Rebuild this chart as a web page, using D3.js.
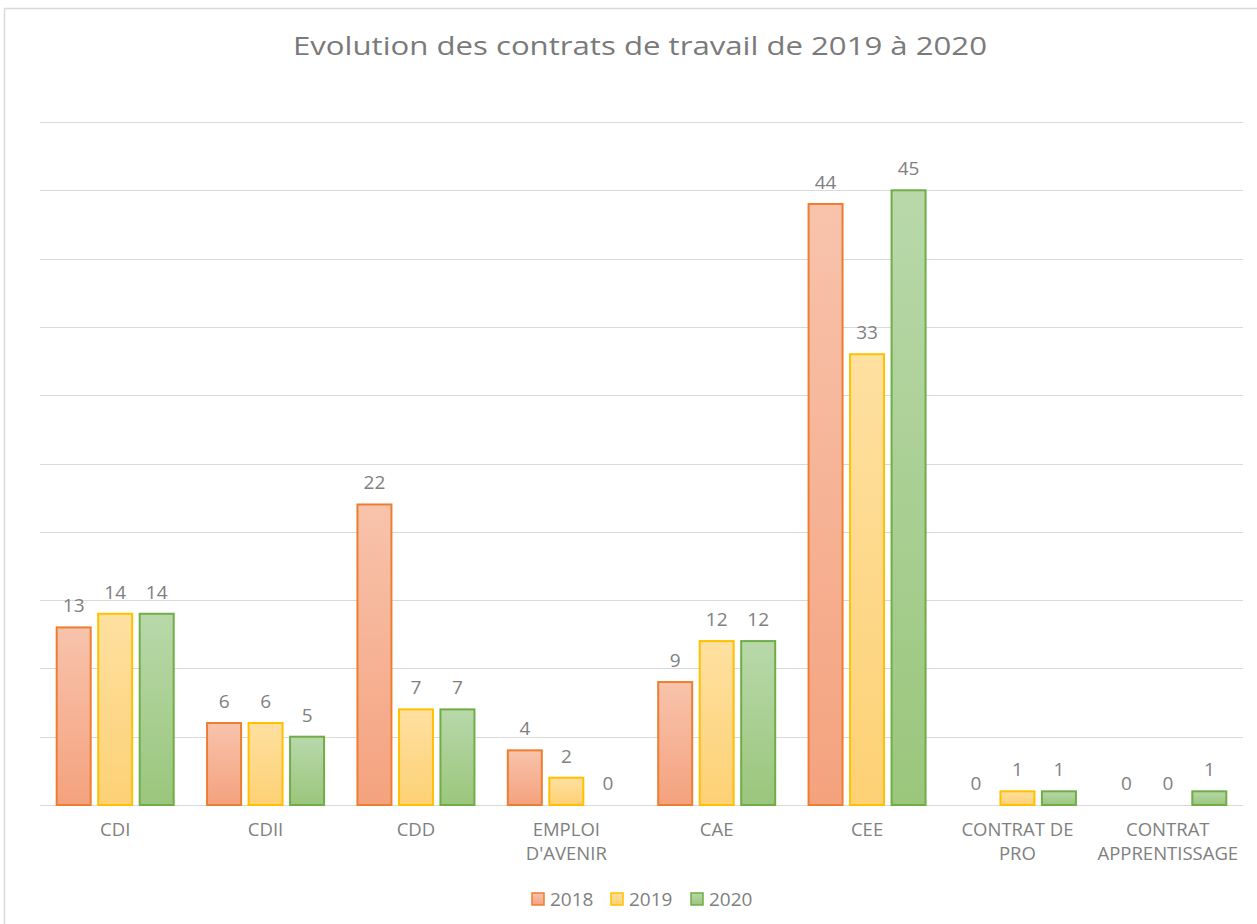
<!DOCTYPE html>
<html>
<head>
<meta charset="utf-8">
<script src="https://cdn.jsdelivr.net/npm/d3@7"></script>
<style>
  body { margin: 0; background: #fff; }
  text { font-family: "Open Sans", "Noto Sans", sans-serif; }
</style>
</head>
<body>
<div id="chart"></div>
<script>
var categories = ["CDI", "CDII", "CDD", "EMPLOI D'AVENIR", "CAE", "CEE", "CONTRAT DE PRO", "CONTRAT APPRENTISSAGE"]
// labels as they wrap in the picture
var categoryLines = [["CDI"], ["CDII"], ["CDD"], ["EMPLOI", "D'AVENIR"], ["CAE"], ["CEE"], ["CONTRAT DE", "PRO"], ["CONTRAT", "APPRENTISSAGE"]]
var years = ["2018", "2019", "2020"]
var values2018 = [13, 6, 22, 4, 9, 44, 0, 0]
var values2019 = [14, 6, 7, 2, 12, 33, 1, 0]
var values2020 = [14, 5, 7, 0, 12, 45, 1, 1]
var gridTicks = [0, 5, 10, 15, 20, 25, 30, 35, 40, 45, 50]

var series = [values2018, values2019, values2020]
var strokes = ["#ed7d31", "#ffc000", "#70ad47"]
var gradTop = ["#f8c3ac", "#fee0a0", "#b8d8aa"]
var gradBot = ["#f4a27e", "#fdd175", "#9bc67c"]

var W = 1257, H = 924
var plot = {left: 40, right: 1243, top: 122, bottom: 805}

var svg = d3.select("#chart").append("svg")
  .attr("width", W)
  .attr("height", H)

var defs = svg.append("defs")
years.forEach(function(y, i){
  var g = defs.append("linearGradient")
    .attr("id", "grad" + i)
    .attr("x1", 0).attr("y1", 0).attr("x2", 0).attr("y2", 1)
  g.append("stop").attr("offset", "0%").attr("stop-color", gradTop[i])
  g.append("stop").attr("offset", "100%").attr("stop-color", gradBot[i])
})

// chart frame (left and top edges visible)
svg.append("path")
  .attr("d", "M4.5,924 V8.5 H1257")
  .attr("fill", "none")
  .attr("stroke", "#d9d9d9")
  .attr("stroke-width", 1.5)

svg.append("text")
  .attr("x", 640)
  .attr("y", 55)
  .attr("text-anchor", "middle")
  .attr("fill", "#7a7a7a")
  .attr("font-size", 26)
  .attr("textLength", 694)
  .attr("lengthAdjust", "spacingAndGlyphs")
  .text("Evolution des contrats de travail de 2019 à 2020")

var x0 = d3.scaleBand()
  .domain(categories)
  .range([plot.left, plot.right])
  .paddingInner(0)
  .paddingOuter(0)

var bw = 34, gap = 7.5
var x1 = d3.scaleBand()
  .domain(years)
  .range([0, 3 * bw + 2 * gap])
  .paddingInner(gap / (bw + gap))

var y = d3.scaleLinear()
  .domain([0, 50])
  .range([plot.bottom, plot.top])

// gridlines
svg.append("g")
  .selectAll("line")
  .data(gridTicks)
  .enter()
  .append("line")
    .attr("x1", plot.left)
    .attr("x2", plot.right)
    .attr("y1", function(d){ return Math.round(y(d)) + 0.5 })
    .attr("y2", function(d){ return Math.round(y(d)) + 0.5 })
    .attr("stroke", "#d9d9d9")
    .attr("stroke-width", 1)

var groupW = 3 * bw + 2 * gap
var groups = svg.append("g")
  .selectAll("g")
  .data(categories)
  .enter()
  .append("g")
    .attr("transform", function(d){ return "translate(" + (x0(d) + (x0.bandwidth() - groupW) / 2) + ",0)" })

groups.selectAll("rect")
  .data(function(d, ci){ return years.map(function(yr, si){ return {year: yr, si: si, v: series[si][ci]} }) })
  .enter()
  .filter(function(d){ return d.v > 0 })
  .append("rect")
    .attr("x", function(d){ return x1(d.year) })
    .attr("y", function(d){ return y(d.v) })
    .attr("width", x1.bandwidth())
    .attr("height", function(d){ return y(0) - y(d.v) })
    .attr("fill", function(d){ return "url(#grad" + d.si + ")" })
    .attr("stroke", function(d){ return strokes[d.si] })
    .attr("stroke-width", 2)

groups.selectAll("text.val")
  .data(function(d, ci){ return years.map(function(yr, si){ return {year: yr, si: si, v: series[si][ci]} }) })
  .enter()
  .append("text")
    .attr("class", "val")
    .attr("x", function(d){ return x1(d.year) + x1.bandwidth() / 2 })
    .attr("y", function(d){ return y(d.v) - 15 })
    .attr("text-anchor", "middle")
    .attr("fill", "#808080")
    .attr("font-size", 19)
    .text(function(d){ return d.v })

// category labels, one text per line
var lab = svg.append("g")
  .selectAll("g")
  .data(categories)
  .enter()
  .append("g")
lab.selectAll("text")
  .data(function(d, i){ return categoryLines[i].map(function(l){ return {cat: d, line: l} }) })
  .enter()
  .append("text")
    .attr("x", function(d){ return x0(d.cat) + x0.bandwidth() / 2 })
    .attr("y", function(d, i){ return 836 + i * 24 })
    .attr("text-anchor", "middle")
    .attr("fill", "#808080")
    .attr("font-size", 18.5)
    .text(function(d){ return d.line })

// legend
var legendX = [532, 611, 691]
var leg = svg.append("g")
  .selectAll("g")
  .data(years)
  .enter()
  .append("g")
    .attr("transform", function(d, i){ return "translate(" + legendX[i] + ",893)" })
leg.append("rect")
  .attr("width", 12)
  .attr("height", 12)
  .attr("fill", function(d, i){ return "url(#grad" + i + ")" })
  .attr("stroke", function(d, i){ return strokes[i] })
  .attr("stroke-width", 1.5)
leg.append("text")
  .attr("x", 18)
  .attr("y", 13)
  .attr("fill", "#808080")
  .attr("font-size", 19)
  .text(function(d){ return d })
</script>
</body>
</html>
